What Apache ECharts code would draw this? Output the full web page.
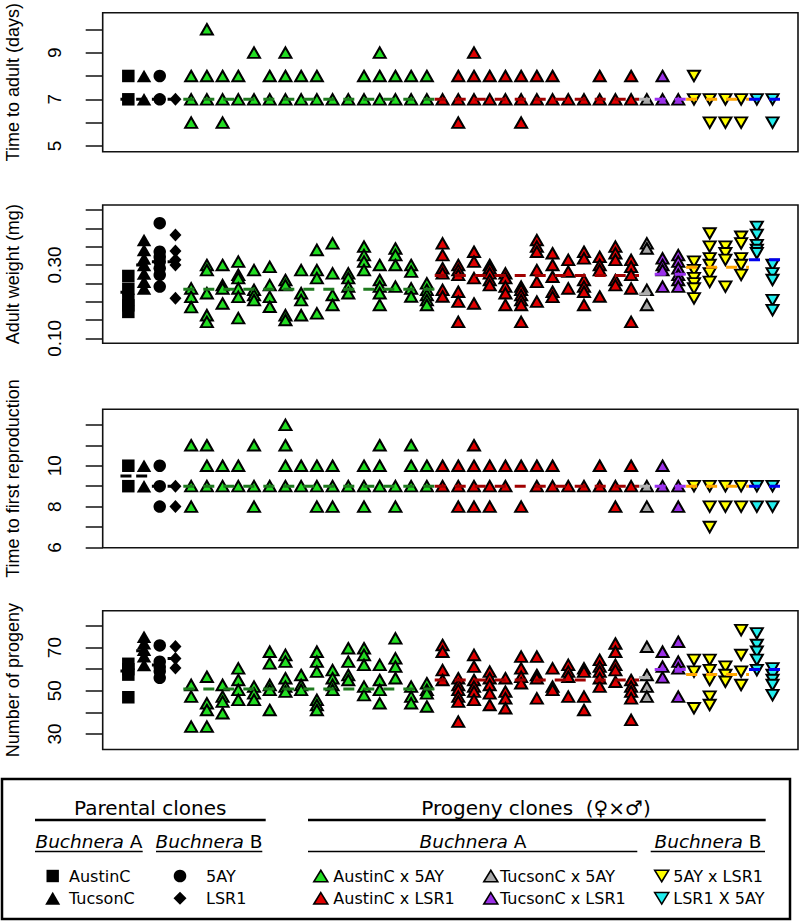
<!DOCTYPE html>
<html><head><meta charset="utf-8">
<script src="https://cdn.jsdelivr.net/npm/echarts@6/dist/echarts.min.js"></script>
<style>html,body{margin:0;padding:0;background:#fff}#c{width:800px;height:922px}</style>
</head><body><div id="c"></div>
<script>
// ---------------- DATA ----------------
const groupNames = ['AustinC','TucsonC','5AY','LSR1','AustinC x 5AY','AustinC x LSR1','TucsonC x 5AY','TucsonC x LSR1','5AY x LSR1','LSR1 X 5AY'];
const groupSizes = [1,1,1,1,16,13,1,2,4,2];

// one entry per clone (42 clones), replicate values
const timeToAdult = [
 [8,7],[8,7],[8,7],[7],
 [8,7,6],[10,8,7],[8,7,6],[8,7],[9,7],[8,7],[9,8,7],[8,7],[8,7],[7],[7],[8,7],[9,8,7],[8,7],[8,7],[8,7],
 [7],[8,7,6],[9,8,7],[8,7],[8,7],[8,7,6],[8,7],[8,7],[7],[7],[8,7],[7],[8,7],
 [7],
 [8,7],[7],
 [8,7],[7,6],[7,6],[7,6],
 [7],[7,6]
];
const adultWeight = [
 [0.270,0.235,0.205,0.190,0.172],
 [0.368,0.341,0.318,0.300,0.277,0.254,0.236],
 [0.414,0.336,0.322,0.309,0.291,0.273,0.241],
 [0.382,0.338,0.314,0.300,0.209],
 [0.236,0.213,0.185],
 [0.300,0.286,0.223,0.163,0.145],
 [0.300,0.245,0.236,0.195],
 [0.309,0.273,0.264,0.236,0.213,0.155],
 [0.286,0.232,0.218,0.204],
 [0.295,0.245,0.213,0.186],
 [0.259,0.245,0.163,0.150],
 [0.286,0.223,0.204,0.163],
 [0.341,0.286,0.264,0.168],
 [0.359,0.277,0.218,0.191],
 [0.277,0.264,0.241,0.223],
 [0.350,0.327,0.309,0.286],
 [0.300,0.259,0.241,0.223,0.191],
 [0.345,0.327,0.300,0.241],
 [0.300,0.282,0.236,0.214],
 [0.250,0.232,0.218,0.204,0.191],
 [0.359,0.327,0.291,0.277,0.232,0.214],
 [0.300,0.286,0.273,0.227,0.200,0.145],
 [0.336,0.309,0.264,0.195],
 [0.300,0.291,0.277,0.259,0.245],
 [0.277,0.264,0.241,0.223,0.191],
 [0.241,0.232,0.218,0.204,0.191,0.145],
 [0.368,0.350,0.336,0.286,0.254,0.200],
 [0.332,0.300,0.268,0.227,0.213],
 [0.314,0.282,0.236],
 [0.336,0.318,0.259,0.241,0.227,0.191],
 [0.322,0.300,0.286,0.214],
 [0.350,0.332,0.314,0.259,0.245],
 [0.314,0.295,0.273,0.236,0.145],
 [0.359,0.345,0.232,0.191],
 [0.318,0.300,0.286,0.241],
 [0.327,0.309,0.291,0.273,0.259,0.241],
 [0.309,0.286,0.264,0.250,0.236,0.209],
 [0.386,0.350,0.318,0.300,0.277,0.254],
 [0.350,0.332,0.314,0.241],
 [0.377,0.359,0.318,0.300,0.273],
 [0.404,0.382,0.354,0.341,0.332],
 [0.300,0.277,0.259,0.204,0.177]
];
const timeToRepro = [
 [10,9],[10,9],[10,9,8],[9,8],
 [11,9,8],[11,10,9],[10,9],[10,9],[11,9,8],[9],[12,11,10,9],[10,9],[10,9,8],[10,9,8],[9],[10,9,8],[11,10,9],[9,8],[11,10,9],[10,9],
 [10,9],[10,9,8],[11,10,9,8],[10,9,8],[10,9],[10,8],[10,9],[10,9],[9],[9],[10,9],[9,8],[10,9],
 [9,8],
 [10,9],[9,8],
 [9],[9,8,7],[9,8],[9,8],
 [9,8],[9,8]
];
const progenyCount = [
 [62.5,60,57.5,47],
 [75,72,69,66,62],
 [71,63.5,61,59,56],
 [70.5,65,60.5],
 [52.7,47.3,33.4],
 [56.5,44.2,41.1,33.4],
 [52.7,47.3,45,39.6],
 [60.4,55,50.4,45.8],
 [51.9,48.8,45.8],
 [68.1,62.7,52.7,50.4,41.1],
 [66.6,63.5,55.8,51.9,49.6],
 [57.3,52.7,50.4],
 [68.1,63.5,58.9,45.8,43.4,41.1],
 [59.6,55.8,52.7,50.4],
 [69.7,63.5,57.3,55],
 [69.7,66.6,62,51.9,48],
 [62,55,50.4,44.2],
 [74.3,65,61.2,55.8],
 [51.9,47.3,44.2],
 [53.5,50.4,48.8,42.7],
 [71.2,68.1,59.6,55],
 [55.8,52.7,50.4,47.3,45,35.7],
 [66.6,61.2,55,51.9,49.6,45.8],
 [58.9,55.8,52.7,48.8,43.4],
 [55.8,49.6,46.5,41.9],
 [65.8,60.4,56.5,53.5],
 [65.8,57.3,55.8,46.5],
 [60.4,51.9,50.4],
 [62,58.9,56.5,47.3],
 [60.4,58.9,47.3,41.1],
 [64.3,61.2,58.9,55.8,51.9],
 [71.9,68.1,62,59.6,54.2],
 [55,51.9,49.6,46.5,36.5],
 [70.4,57.3,51.9,47.3],
 [68.1,61.2,56.2],
 [72.7,63.5,60.4,47.3],
 [64.3,58.9,41.9],
 [64.3,59.6,55,47.3,43.4],
 [61.2,57.3,54.2],
 [78.1,66.6,58.9,52.7],
 [76.6,71.2,68.1,64.3,59.6],
 [60.4,57.3,55,52.7,48]
];
// group means (one per group)
const adultMeans   = [7,7,7,7,7,7,7,7,7,7];
const weightMeans  = [0.2255,0.300,0.309,0.309,0.234,0.271,0.221,0.275,0.294,0.314];
const reproMeans   = [9.5,9.5,9.0,9.0,9.0,9.0,9.0,9.0,9.0,9.0];
const progenyMeans = [59.2,68.5,62,65,50.8,55.0,56.2,59.9,57.5,59.9];

const adultTicks = [5,6,7,8,9,10],            adultLabels = [5,7,9];
const weightTicks = [0.10,0.15,0.20,0.25,0.30,0.35,0.40,0.45], weightLabels = [0.10,0.30];
const reproTicks = [6,7,8,9,10,11,12],        reproLabels = [6,8,10];
const progenyTicks = [30,40,50,60,70,80],     progenyLabels = [30,50,70];

// ---------------- STYLES / LAYOUT ----------------
const groupStyle = [
 {symbol:'rect',     size:[12.5,12.5], fill:'#000', bw:0, rot:0,   line:'#000'},
 {symbol:'triangle', size:[14.5,12.5], fill:'#000', bw:0, rot:0,   line:'#000'},
 {symbol:'circle',   size:[12.5,12.5], fill:'#000', bw:0, rot:0,   line:'#000'},
 {symbol:'diamond',  size:[12,13],     fill:'#000', bw:0, rot:0,   line:'#000'},
 {symbol:'triangle', size:[12,10.5],   fill:'#22dd22', bw:2, rot:0,   line:'#1e7a1e'},
 {symbol:'triangle', size:[12,10.5],   fill:'#e00000', bw:2, rot:0,   line:'#a00000'},
 {symbol:'triangle', size:[12,10.5],   fill:'#a8a8a8', bw:2, rot:0,   line:'#b0b0b0'},
 {symbol:'triangle', size:[12,10.5],   fill:'#9b30e6', bw:2, rot:0,   line:'#9a30f0'},
 {symbol:'triangle', size:[12,10.5],   fill:'#ffff00', bw:2, rot:180, line:'#ffa500'},
 {symbol:'triangle', size:[12,10.5],   fill:'#22eeee', bw:2, rot:180, line:'#0000ee'}
];

const panels = [
 {name:'Time to adult (days)',       vals:timeToAdult,  means:adultMeans,   ticks:adultTicks,   labels:adultLabels,   top:12.7,  height:139,   min:4.756, max:10.71, dec:0},
 {name:'Adult weight (mg)',          vals:adultWeight,  means:weightMeans,  ticks:weightTicks,  labels:weightLabels,  top:205,   height:138.3, min:0.0864,max:0.4636,dec:2},
 {name:'Time to first reproduction', vals:timeToRepro,  means:reproMeans,   ticks:reproTicks,   labels:reproLabels,   top:409.3, height:138.4, min:5.99,  max:12.76, dec:0},
 {name:'Number of progeny',          vals:progenyCount, means:progenyMeans, ticks:progenyTicks, labels:progenyLabels, top:610.7, height:138.8, min:22.8,  max:87.1,  dec:0}
];

const FONT = '"Liberation Sans", Arial, sans-serif';
const LFONT = '"DejaVu Sans", sans-serif';

// clone index ranges per group
const groupStart = [];
(function(){ let s=0; groupSizes.forEach(n=>{groupStart.push(s); s+=n;}); })();

const grids=[], xAxes=[], yAxes=[], series=[];
panels.forEach((p,pi)=>{
  grids.push({left:102.7, right:2, top:p.top, height:p.height, show:true, containLabel:false, outerBoundsMode:'none',
    borderColor:'#111', borderWidth:1.6, backgroundColor:'transparent'});
  xAxes.push({type:'value', gridIndex:pi, min:-1.63, max:42.62, show:false});
  yAxes.push({type:'value', gridIndex:pi, min:p.min, max:p.max,
    name:p.name, nameLocation:'middle', nameRotate:90, nameGap:81,
    nameTextStyle:{fontFamily:FONT, fontSize:18, color:'#000'},
    axisLine:{show:false, onZero:false},
    splitLine:{show:false},
    axisTick:{show:true, length:17, inside:false, customValues:p.ticks, lineStyle:{color:'#111', width:1.5}},
    axisLabel:{show:true, rotate:90, margin:38.5, customValues:p.labels, fontFamily:FONT, fontSize:19, color:'#000',
      formatter:v=>Number(v).toFixed(p.dec)}
  });
  groupNames.forEach((gn,gi)=>{
    const st = groupStyle[gi];
    const data=[];
    for(let c=groupStart[gi]; c<groupStart[gi]+groupSizes[gi]; c++){
      p.vals[c].forEach(v=>data.push([c,v]));
    }
    series.push({type:'scatter', name:gn, xAxisIndex:pi, yAxisIndex:pi, data,
      symbol:st.symbol, symbolSize:st.size, symbolRotate:st.rot, z:2,
      itemStyle:{color:st.fill, borderColor:'#000', borderWidth:st.bw, opacity:1},
      emphasis:{disabled:true}, silent:true});
  });
  groupNames.forEach((gn,gi)=>{
    const st = groupStyle[gi];
    const a = groupStart[gi]-0.5, b = groupStart[gi]+groupSizes[gi]-1+0.5;
    series.push({type:'line', xAxisIndex:pi, yAxisIndex:pi, data:[[a,p.means[gi]],[b,p.means[gi]]],
      symbol:'none', z:5, silent:true,
      lineStyle:{color:st.line, width:3, type:[11,9]}});
  });
});

// ---------------- LEGEND (graphic) ----------------
const G=[];
const T=(text,x,y,size,align,extra)=>Object.assign({type:'text', z:10, style:Object.assign({text, x, y, fontFamily:LFONT, fontSize:size, fill:'#000', textAlign:align, textVerticalAlign:'middle'}, extra||{})});
const L=(x1,y1,x2,y2,w)=>({type:'line', z:10, shape:{x1,y1,x2,y2}, style:{stroke:'#000', lineWidth:w}});
const triUp=(cx,cy,fill,w,h)=>({type:'polygon', z:10, shape:{points:[[cx,cy-h/2],[cx+w/2,cy+h/2],[cx-w/2,cy+h/2]]}, style:{fill, stroke:fill==='#000'?null:'#000', lineWidth:1.6}});
const triDn=(cx,cy,fill,w,h)=>({type:'polygon', z:10, shape:{points:[[cx,cy+h/2],[cx+w/2,cy-h/2],[cx-w/2,cy-h/2]]}, style:{fill, stroke:'#000', lineWidth:1.6}});
const rich={i:{fontStyle:'italic', fontFamily:LFONT, fontSize:18.5}, r:{fontFamily:LFONT, fontSize:18.5}};

G.push({type:'rect', z:10, shape:{x:2,y:779,width:788,height:140}, style:{fill:'none', stroke:'#000', lineWidth:2.5}});
G.push(T('Parental clones',150.3,807.5,20,'center'));
G.push(L(35,820,265.7,820,2.5));
G.push(T('{i|Buchnera}{r| A}',88.9,841,18.5,'center',{rich}));
G.push(L(35,851.5,142.7,851.5,1.5));
G.push(T('{i|Buchnera}{r| B}',209,841,18.5,'center',{rich}));
G.push(L(156,851.5,262.3,851.5,1.5));
G.push({type:'rect', z:10, shape:{x:52.7-6.2,y:876-6.2,width:12.4,height:12.4}, style:{fill:groupStyle[0].fill}});
G.push(triUp(52.7,898.3,groupStyle[1].fill,15,13));
G.push(T(groupNames[0],69,876.5,16,'left'));
G.push(T(groupNames[1],69,898.8,16,'left'));
G.push({type:'circle', z:10, shape:{cx:180,cy:876,r:6.3}, style:{fill:groupStyle[2].fill}});
G.push({type:'polygon', z:10, shape:{points:[[180,891.8],[186.5,898.3],[180,904.8],[173.5,898.3]]}, style:{fill:groupStyle[3].fill}});
G.push(T(groupNames[2],206,876.5,16,'left'));
G.push(T(groupNames[3],206,898.8,16,'left'));

G.push(T('Progeny clones  (♀×♂)',536,807.5,20,'center'));
G.push(L(308,820,765.7,820,2.5));
G.push(T('{i|Buchnera}{r| A}',473,841,18.5,'center',{rich}));
G.push(L(308,851.5,637.3,851.5,1.5));
G.push(T('{i|Buchnera}{r| B}',708,841,18.5,'center',{rich}));
G.push(L(650.7,851.5,765,851.5,1.5));
G.push(triUp(320.8,876,groupStyle[4].fill,14,11.5));
G.push(triUp(320.8,898.3,groupStyle[5].fill,14,11.5));
G.push(T(groupNames[4],333.3,876.5,16,'left'));
G.push(T(groupNames[5],333.3,898.8,16,'left'));
G.push(triUp(490.8,876,groupStyle[6].fill,14,11.5));
G.push(triUp(490.8,898.3,groupStyle[7].fill,14,11.5));
G.push(T(groupNames[6],500,876.5,16,'left'));
G.push(T(groupNames[7],500,898.8,16,'left'));
G.push(triDn(661.7,876,groupStyle[8].fill,14,11.5));
G.push(triDn(661.7,898.3,groupStyle[9].fill,14,11.5));
G.push(T(groupNames[8],673.3,876.5,16,'left'));
G.push(T(groupNames[9],673.3,898.8,16,'left'));

const chart = echarts.init(document.getElementById('c'), null, {renderer:'svg', width:800, height:922});
chart.setOption({
  animation:false,
  backgroundColor:'#fff',
  grid:grids, xAxis:xAxes, yAxis:yAxes, series,
  graphic:G
});
</script>
</body></html>
